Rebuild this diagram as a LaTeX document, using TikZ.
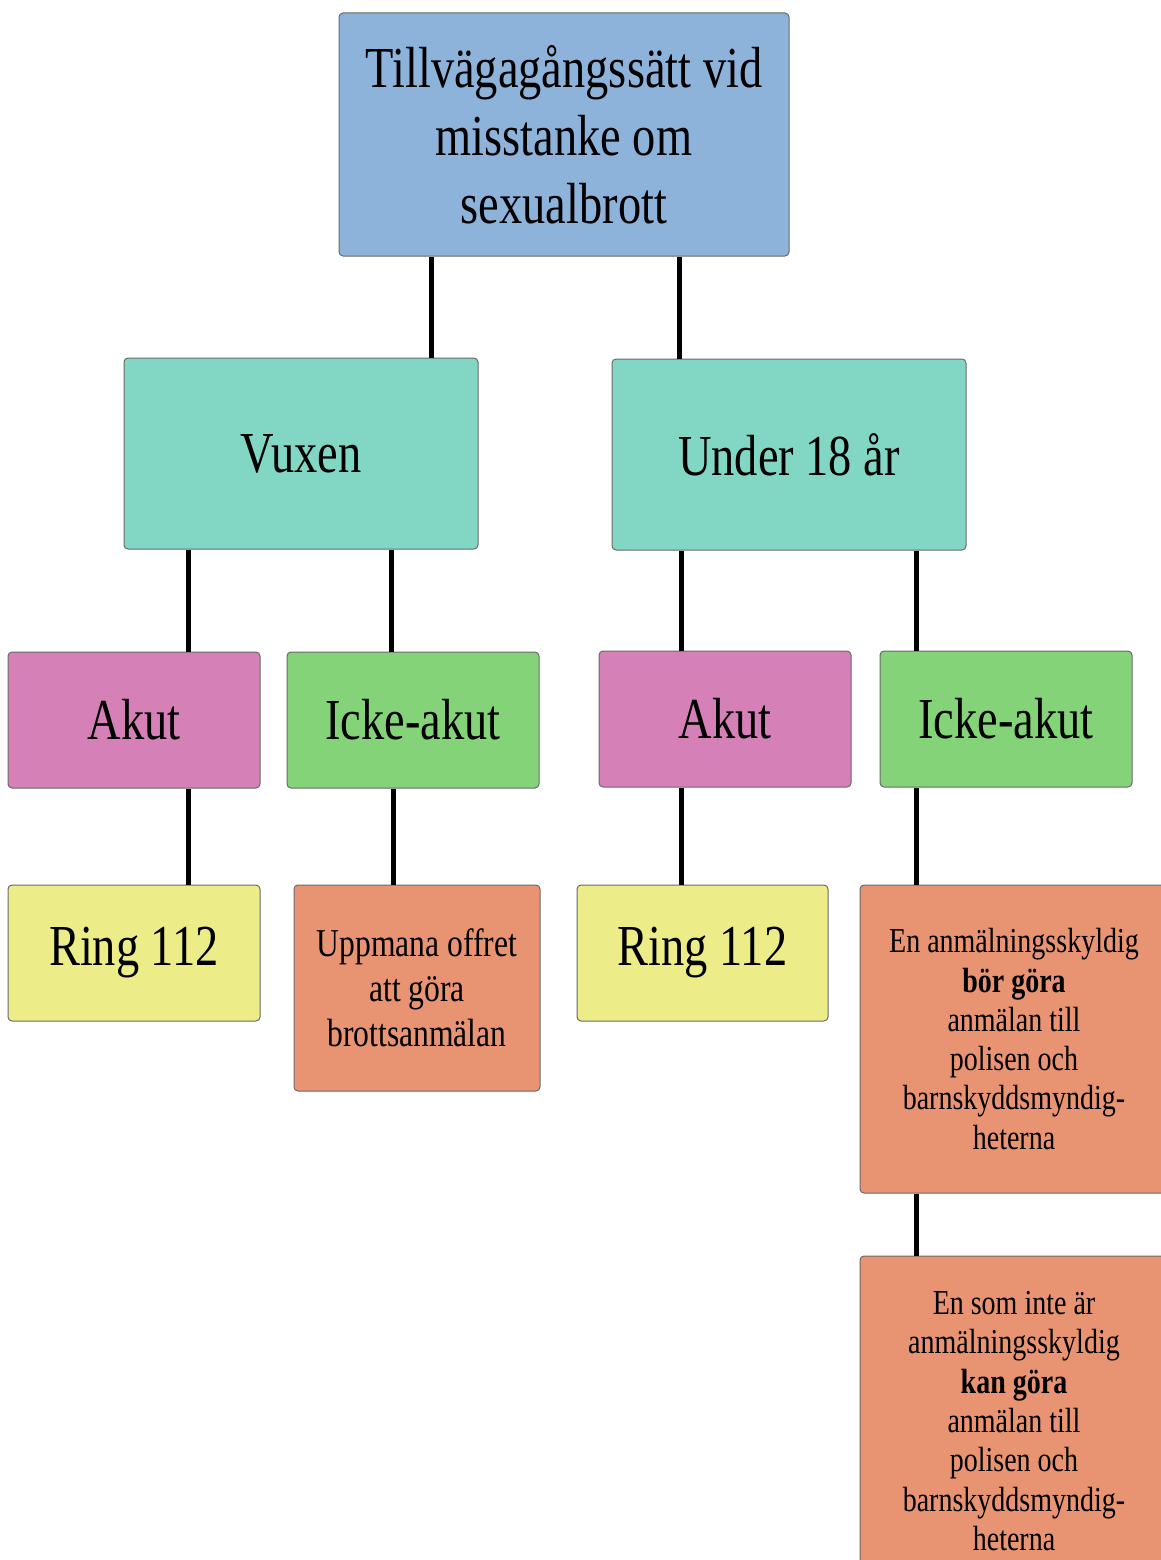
\documentclass[tikz,border=0pt]{standalone}
\usepackage{fontspec}
\setmainfont{Liberation Serif}[FakeStretch=0.8]
\usepackage{tikz}
\usetikzlibrary{positioning}

\definecolor{topblue}{RGB}{141,179,218}
\definecolor{groupteal}{RGB}{130,215,196}
\definecolor{akutpink}{RGB}{214,128,184}
\definecolor{ickegreen}{RGB}{132,211,120}
\definecolor{ringyellow}{RGB}{236,237,137}
\definecolor{actionorange}{RGB}{232,148,114}
\definecolor{boxline}{RGB}{105,105,105}

\begin{document}
\begin{tikzpicture}[x=1pt, y=-1pt,
    box/.style={draw=boxline, line width=1pt, rounded corners=4pt, inner sep=0pt, align=center},
    big/.style={font=\fontsize{58}{68}\selectfont},
    mid/.style={font=\fontsize{39.5}{45}\selectfont},
    small/.style={font=\fontsize{35}{39.3}\selectfont},
    link/.style={line width=5pt}]
    \useasboundingbox (0,0) rectangle (1161,1560);

    % Top
    \node [box, big, fill=topblue, minimum width=450pt, minimum height=243pt] (top) at (564,134.5) {Tillvägagångssätt vid\\misstanke om\\sexualbrott};

    % Vuxen / Under 18
    \node [box, big, fill=groupteal, minimum width=354pt, minimum height=191pt] (vuxen) at (301,453.5) {Vuxen};
    \node [box, big, fill=groupteal, minimum width=354pt, minimum height=191pt] (under) at (789,454.5) {Under 18 år};

    % Akut / Icke-akut
    \node [box, big, fill=akutpink, minimum width=252pt, minimum height=136pt] (akutL) at (134,720) {Akut};
    \node [box, big, fill=ickegreen, minimum width=252pt, minimum height=136pt] (ickeL) at (413,720) {Icke-akut};
    \node [box, big, fill=akutpink, minimum width=252pt, minimum height=136pt] (akutR) at (725,719) {Akut};
    \node [box, big, fill=ickegreen, minimum width=252pt, minimum height=136pt] (ickeR) at (1006,719) {Icke-akut};

    % Actions
    \node [box, big, fill=ringyellow, minimum width=252pt, minimum height=136pt] (ringL) at (134,953) {Ring 112};
    \node [box, mid, fill=actionorange, minimum width=246pt, minimum height=206pt] (uppmana) at (417,988) {Uppmana offret\\att göra\\brottsanmälan};
    \node [box, big, fill=ringyellow, minimum width=251pt, minimum height=136pt] (ringR) at (702.5,953) {Ring 112};
    \node [box, small, fill=actionorange, minimum width=308pt, minimum height=308pt] (anm) at (1014,1039) {En anmälningsskyldig\\\textbf{bör göra}\\anmälan till\\polisen och\\barnskyddsmyndig-\\heterna};
    \node [box, small, fill=actionorange, minimum width=308pt, minimum height=330pt] (som) at (1014,1421) {En som inte är\\anmälningsskyldig\\\textbf{kan göra}\\anmälan till\\polisen och\\barnskyddsmyndig-\\heterna};

    % Connectors
    \draw [link] ([xshift=-133pt]top.south) -- ([xshift=130pt]vuxen.north);
    \draw [link] ([xshift=115pt]top.south) -- ([xshift=-110pt]under.north);
    \draw [link] ([xshift=-113pt]vuxen.south) -- ([xshift=54pt]akutL.north);
    \draw [link] ([xshift=90pt]vuxen.south) -- ([xshift=-22pt]ickeL.north);
    \draw [link] ([xshift=-108pt]under.south) -- ([xshift=-44pt]akutR.north);
    \draw [link] ([xshift=127pt]under.south) -- ([xshift=-90pt]ickeR.north);
    \draw [link] ([xshift=54pt]akutL.south) -- ([xshift=54pt]ringL.north);
    \draw [link] ([xshift=-20pt]ickeL.south) -- ([xshift=-24pt]uppmana.north);
    \draw [link] ([xshift=-44pt]akutR.south) -- ([xshift=-21.5pt]ringR.north);
    \draw [link] ([xshift=-90pt]ickeR.south) -- ([xshift=-98pt]anm.north);
    \draw [link] ([xshift=-98pt]anm.south) -- ([xshift=-98pt]som.north);
\end{tikzpicture}
\end{document}
